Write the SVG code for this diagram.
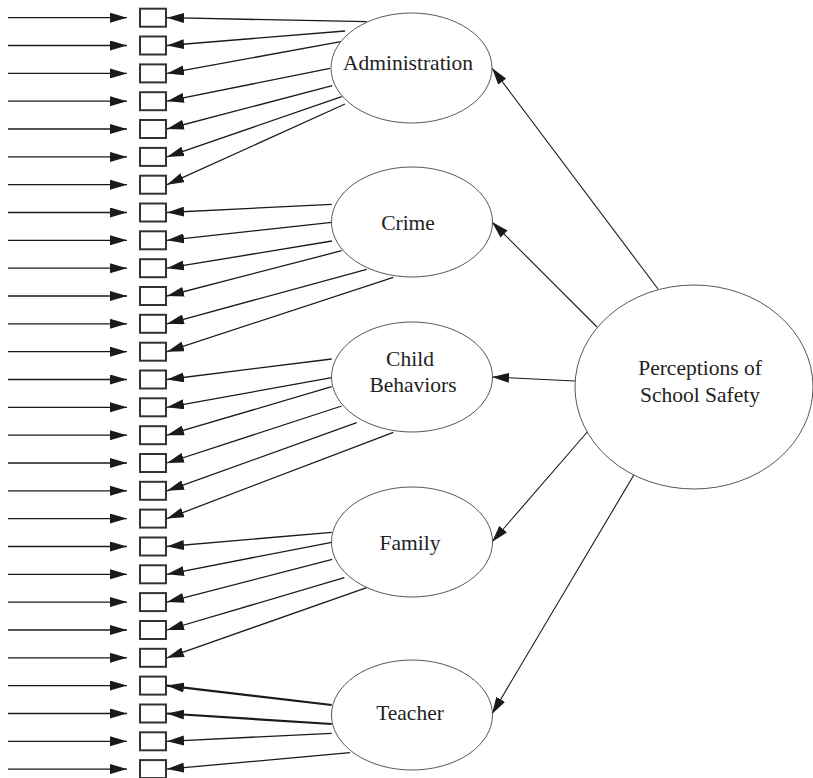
<svg xmlns="http://www.w3.org/2000/svg" width="813" height="778" viewBox="0 0 813 778">
<style>
.box{fill:#fff;stroke:#333;stroke-width:2}
.ell{fill:#fff;stroke:#444;stroke-width:0.9}
.lbl{font-family:"Liberation Serif","Times New Roman",serif;font-size:21.5px;fill:#222;text-anchor:middle}
.ln{stroke:#1a1a1a;stroke-width:1.3;fill:none;marker-end:url(#ah)}
.thick{stroke-width:2.2}
.thin{stroke-width:1.1}
</style>
<defs>
<marker id="ah" markerUnits="userSpaceOnUse" markerWidth="17" markerHeight="10" refX="17" refY="5" orient="auto">
<path d="M0,0 L17,5 L0,10 z" fill="#1a1a1a"/>
</marker>
</defs>
<g id="connectors">
<g id="inputs">
<path class="ln" d="M8,17.7H127"/><path class="ln" d="M8,45.5H127"/><path class="ln" d="M8,73.4H127"/><path class="ln" d="M8,101.2H127"/><path class="ln" d="M8,129H127"/><path class="ln" d="M8,156.9H127"/><path class="ln" d="M8,184.7H127"/>
<path class="ln" d="M8,212.5H127"/><path class="ln" d="M8,240.3H127"/><path class="ln" d="M8,268.2H127"/><path class="ln" d="M8,296H127"/><path class="ln" d="M8,323.8H127"/><path class="ln" d="M8,351.7H127"/>
<path class="ln" d="M8,379.5H127"/><path class="ln" d="M8,407.3H127"/><path class="ln" d="M8,435.2H127"/><path class="ln" d="M8,463H127"/><path class="ln" d="M8,490.8H127"/><path class="ln" d="M8,518.6H127"/>
<path class="ln" d="M8,546.5H127"/><path class="ln" d="M8,574.3H127"/><path class="ln" d="M8,602.1H127"/><path class="ln" d="M8,630H127"/><path class="ln" d="M8,657.8H127"/>
<path class="ln" d="M8,685.6H127"/><path class="ln" d="M8,713.5H127"/><path class="ln" d="M8,741.3H127"/><path class="ln" d="M8,769.1H127"/>
</g>
<g id="loadings">
<path class="ln" d="M366.7,21.7L167,17.7"/><path class="ln" d="M345,31L167,45.5"/><path class="ln" d="M340.7,41.7L167,73.4"/><path class="ln" d="M330,68.3L167,101.2"/><path class="ln" d="M332.3,85.7L167,129"/><path class="ln" d="M341.7,96.7L167,156.9"/><path class="ln" d="M345,104L167,184.7"/>
<path class="ln" d="M331.7,204.3L167,212.5"/><path class="ln" d="M331.7,222.3L167,240.3"/><path class="ln" d="M332,241L167,268.2"/><path class="ln" d="M341.7,250.7L167,296"/><path class="ln" d="M366.7,269.3L167,323.8"/><path class="ln" d="M393.3,277.3L167,351.7"/>
<path class="ln" d="M331.7,359L167,379.5"/><path class="ln" d="M331.7,377.7L167,407.3"/><path class="ln" d="M331.7,386.7L167,435.2"/><path class="ln" d="M341.7,406L167,463"/><path class="ln" d="M356.7,422.7L167,490.8"/><path class="ln" d="M393.3,432.3L167,518.6"/>
<path class="ln" d="M331.7,532.3L167,546.5"/><path class="ln" d="M331.7,542.3L167,574.3"/><path class="ln" d="M332.3,559.3L167,602.1"/><path class="ln" d="M344.3,577.7L167,630"/><path class="ln" d="M366.7,587.7L167,657.8"/>
<path class="ln thick" d="M331.7,705L167,685.6"/><path class="ln thick" d="M331.7,724L167,713.5"/><path class="ln" d="M331.7,733.3L167,741.3"/><path class="ln" d="M350,752.7L167,769.1"/>
</g>
<g id="paths">
<path class="ln thin" d="M658,289L492,68"/>
<path class="ln thin" d="M597,327L492,222"/>
<path class="ln thin" d="M575,381L492,377"/>
<path class="ln thin" d="M589,430L492,542"/>
<path class="ln thin" d="M635,473L492,714"/>
</g>
</g>
<g id="indicators">
<rect class="box" x="140" y="8.7" width="26" height="18"/><rect class="box" x="140" y="36.5" width="26" height="18"/><rect class="box" x="140" y="64.4" width="26" height="18"/><rect class="box" x="140" y="92.2" width="26" height="18"/><rect class="box" x="140" y="120" width="26" height="18"/><rect class="box" x="140" y="147.9" width="26" height="18"/><rect class="box" x="140" y="175.7" width="26" height="18"/>
<rect class="box" x="140" y="203.5" width="26" height="18"/><rect class="box" x="140" y="231.3" width="26" height="18"/><rect class="box" x="140" y="259.2" width="26" height="18"/><rect class="box" x="140" y="287" width="26" height="18"/><rect class="box" x="140" y="314.8" width="26" height="18"/><rect class="box" x="140" y="342.7" width="26" height="18"/>
<rect class="box" x="140" y="370.5" width="26" height="18"/><rect class="box" x="140" y="398.3" width="26" height="18"/><rect class="box" x="140" y="426.2" width="26" height="18"/><rect class="box" x="140" y="454" width="26" height="18"/><rect class="box" x="140" y="481.8" width="26" height="18"/><rect class="box" x="140" y="509.6" width="26" height="18"/>
<rect class="box" x="140" y="537.5" width="26" height="18"/><rect class="box" x="140" y="565.3" width="26" height="18"/><rect class="box" x="140" y="593.1" width="26" height="18"/><rect class="box" x="140" y="621" width="26" height="18"/><rect class="box" x="140" y="648.8" width="26" height="18"/>
<rect class="box" x="140" y="676.6" width="26" height="18"/><rect class="box" x="140" y="704.5" width="26" height="18"/><rect class="box" x="140" y="732.3" width="26" height="18"/><rect class="box" x="140" y="760.1" width="26" height="18"/>
</g>
<g id="administration"><ellipse class="ell" cx="411.5" cy="68" rx="80.5" ry="55"/><text class="lbl" x="408" y="70">Administration</text></g>
<g id="crime"><ellipse class="ell" cx="412" cy="222" rx="80.5" ry="55"/><text class="lbl" x="408" y="230">Crime</text></g>
<g id="child-behaviors"><ellipse class="ell" cx="412" cy="377" rx="80.5" ry="55"/><text class="lbl" x="410" y="365.5">Child</text><text class="lbl" x="413" y="392">Behaviors</text></g>
<g id="family"><ellipse class="ell" cx="412" cy="542" rx="80.5" ry="55"/><text class="lbl" x="410" y="550">Family</text></g>
<g id="teacher"><ellipse class="ell" cx="412" cy="715" rx="80.5" ry="55"/><text class="lbl" x="410" y="720">Teacher</text></g>
<g id="perceptions"><ellipse class="ell" cx="694" cy="387" rx="119" ry="102"/><text class="lbl" x="700" y="375">Perceptions of</text><text class="lbl" x="700" y="401.5">School Safety</text></g>
</svg>
